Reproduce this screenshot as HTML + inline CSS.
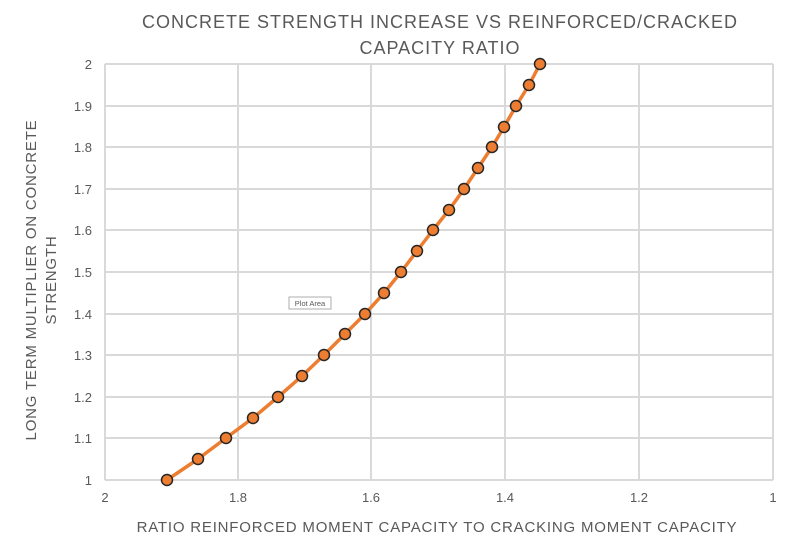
<!DOCTYPE html>
<html><head><meta charset="utf-8"><style>
body{margin:0;background:#fff;width:800px;height:543px;overflow:hidden}
text{font-family:"Liberation Sans",sans-serif;fill:#595959}
</style></head><body>
<svg width="800" height="543" xmlns="http://www.w3.org/2000/svg">
<text x="440" y="28" font-size="18" text-anchor="middle" letter-spacing="1">CONCRETE STRENGTH INCREASE VS REINFORCED/CRACKED</text>
<text x="440" y="54" font-size="18" text-anchor="middle" letter-spacing="1">CAPACITY RATIO</text>
<g stroke="#d9d9d9" stroke-width="2" fill="none">
<path d="M105 64H773M105 106H773M105 147H773M105 189H773M105 230H773M105 272H773M105 314H773M105 355H773M105 397H773M105 438H773M105 480H773"/>
<path d="M105 64V480M238 64V480M371 64V480M505 64V480M639 64V480M773 64V480"/>
</g>
<g font-size="13" text-anchor="end">
<text x="92" y="485">1</text><text x="92" y="443">1.1</text><text x="92" y="402">1.2</text><text x="92" y="360">1.3</text><text x="92" y="319">1.4</text><text x="92" y="277">1.5</text><text x="92" y="235">1.6</text><text x="92" y="194">1.7</text><text x="92" y="152">1.8</text><text x="92" y="111">1.9</text><text x="92" y="69">2</text>
</g>
<g font-size="13" text-anchor="middle">
<text x="105" y="502">2</text><text x="238" y="502">1.8</text><text x="371" y="502">1.6</text><text x="505" y="502">1.4</text><text x="639" y="502">1.2</text><text x="773" y="502">1</text>
</g>
<text x="437" y="532" font-size="15" text-anchor="middle" letter-spacing="0.8">RATIO REINFORCED MOMENT CAPACITY TO CRACKING MOMENT CAPACITY</text>
<text transform="translate(36 280) rotate(-90)" font-size="15" text-anchor="middle" letter-spacing="0.8">LONG TERM MULTIPLIER ON CONCRETE</text>
<text transform="translate(56 280) rotate(-90)" font-size="15" text-anchor="middle" letter-spacing="0.8">STRENGTH</text>
<polyline fill="none" stroke="#ed7d31" stroke-width="3.5" stroke-linejoin="round" points="167,480 198,459 226,438 253,418 278,397 302,376 324,355 345,334 365,314 384,293 401,272 417,251 433,230 449,210 464,189 478,168 492,147 504,127 516,106 529,85 540,64"/>
<g fill="#ed7d31" stroke="#262626" stroke-width="1.5">
<circle cx="167" cy="480" r="5.5"/><circle cx="198" cy="459" r="5.5"/><circle cx="226" cy="438" r="5.5"/><circle cx="253" cy="418" r="5.5"/><circle cx="278" cy="397" r="5.5"/><circle cx="302" cy="376" r="5.5"/><circle cx="324" cy="355" r="5.5"/><circle cx="345" cy="334" r="5.5"/><circle cx="365" cy="314" r="5.5"/><circle cx="384" cy="293" r="5.5"/><circle cx="401" cy="272" r="5.5"/><circle cx="417" cy="251" r="5.5"/><circle cx="433" cy="230" r="5.5"/><circle cx="449" cy="210" r="5.5"/><circle cx="464" cy="189" r="5.5"/><circle cx="478" cy="168" r="5.5"/><circle cx="492" cy="147" r="5.5"/><circle cx="504" cy="127" r="5.5"/><circle cx="516" cy="106" r="5.5"/><circle cx="529" cy="85" r="5.5"/><circle cx="540" cy="64" r="5.5"/>
</g>
<rect x="289" y="297" width="42" height="12" fill="#fff" stroke="#999" stroke-width="0.8"/>
<text x="310" y="306" font-size="7.5" text-anchor="middle" fill="#595959">Plot Area</text>
</svg>
</body></html>
